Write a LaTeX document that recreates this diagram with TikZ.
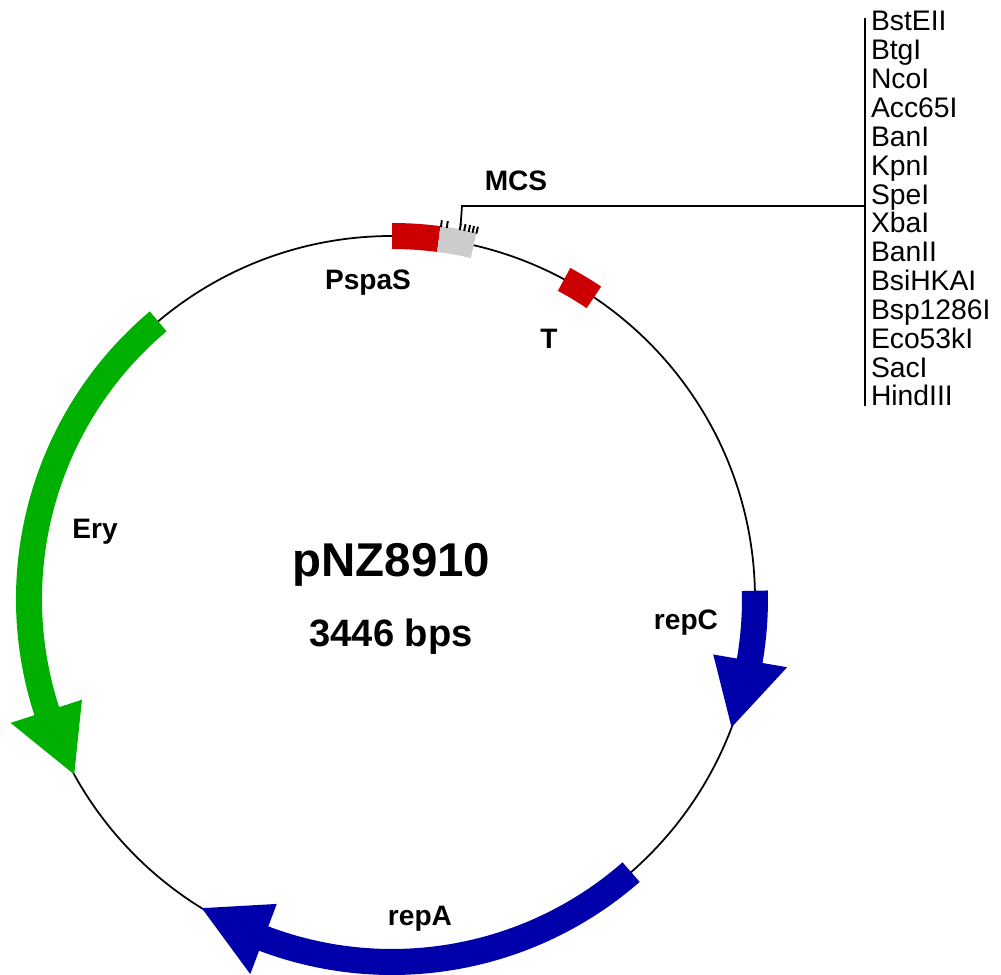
\documentclass[tikz,border=0pt]{standalone}
\usepackage{fontspec}
\setmainfont{Liberation Sans}
\usepackage{xcolor}
\usepackage{tikz}
\usetikzlibrary{positioning}
\definecolor{erygreen}{RGB}{0,176,0}
\definecolor{repblue}{RGB}{0,0,170}
\definecolor{promred}{RGB}{204,0,0}
\definecolor{mcsgray}{RGB}{204,204,204}
% gene arrow: colour, start angle, head base angle, tip angle
\newcommand{\genearrow}[4]{\fill[#1] (#2:376) arc[start angle=#2, end angle=#3, radius=376] -- (#3:401) -- (#4:363) -- (#3:326) -- (#3:350) arc[start angle=#3, end angle=#2, radius=350] -- cycle;}
% plain block on the ring: colour, start angle, end angle
\newcommand{\ringblock}[3]{\fill[#1] (#2:376) arc[start angle=#2, end angle=#3, radius=376] -- (#3:350) arc[start angle=#3, end angle=#2, radius=350] -- cycle;}
\begin{document}
\begin{tikzpicture}[
      x=0.02cm, y=0.02cm,
      label/.style={font=\bfseries\fontsize{16}{19}\selectfont, inner sep=0pt},
      site/.style={font=\fontsize{16.1}{19}\selectfont, inner sep=0pt, outer sep=0pt, text width=2.6cm, align=left, text height=0.42cm, text depth=0.157cm},
      line/.style={line width=1pt, black},
      tick/.style={line width=1.1pt, black}
  ]
  \useasboundingbox (0,0) rectangle (1001,974);
  \begin{scope}[shift={(392,375)}]
  % Ring
  \draw[line] (0,0) circle[radius=363];
  % Genes
  \genearrow{erygreen}{130.1}{198}{208.9}
  \genearrow{repblue}{1.3}{-9.8}{-20.7}
  \genearrow{repblue}{311.2}{249.3}{238.4}
  % Blocks
  \ringblock{promred}{90}{82.6}
  \ringblock{mcsgray}{82.6}{77}
  \ringblock{promred}{61.7}{56.2}
  % Cut site ticks
  \foreach \a in {82.5,81.6,79.6,78.9,78.2,77.6,77.0}
    \draw[tick] (\a:375) -- (\a:382);
  \coordinate (mcsfoot) at (79.6:380);
  \end{scope}
  % Nodes
  \node[label, font=\bfseries\fontsize{27}{30}\selectfont] (name) at (391.5,409) {pNZ8910};
  \node[label, font=\bfseries\fontsize{21.7}{25}\selectfont] (size) at (391,337) {3446 bps};
  \node[label] (mcs) at (516,793) {MCS};
  \node[label] (pspas) at (368,691) {PspaS};
  \node[label] (t) at (549,635) {T};
  \node[label] (ery) at (95,442) {Ery};
  \node[label] (repc) at (686,351) {repC};
  \node[label] (repa) at (420,55) {repA};
  % Restriction sites
  \node[site, anchor=base west] (bste) at (871,943) {BstEII};
  \node[site, below=0pt of bste] (btg) {BtgI};
  \node[site, below=0pt of btg] (nco) {NcoI};
  \node[site, below=0pt of nco] (acc) {Acc65I};
  \node[site, below=0pt of acc] (ban) {BanI};
  \node[site, below=0pt of ban] (kpn) {KpnI};
  \node[site, below=0pt of kpn] (spe) {SpeI};
  \node[site, below=0pt of spe] (xba) {XbaI};
  \node[site, below=0pt of xba] (banii) {BanII};
  \node[site, below=0pt of banii] (bsi) {BsiHKAI};
  \node[site, below=0pt of bsi] (bsp) {Bsp1286I};
  \node[site, below=0pt of bsp] (eco) {Eco53kI};
  \node[site, below=0pt of eco] (sac) {SacI};
  \node[site, below=0pt of sac] (hind) {HindIII};
  % Leader
  \coordinate (bartop) at (865,956);
  \coordinate (barbot) at (865,568);
  \coordinate (barmid) at (865,768);
  \coordinate (elbow) at (462,768);
  \draw[line] (bartop) -- (barbot);
  \draw[line] (mcsfoot) -- (elbow) -- (barmid);
\end{tikzpicture}
\end{document}
